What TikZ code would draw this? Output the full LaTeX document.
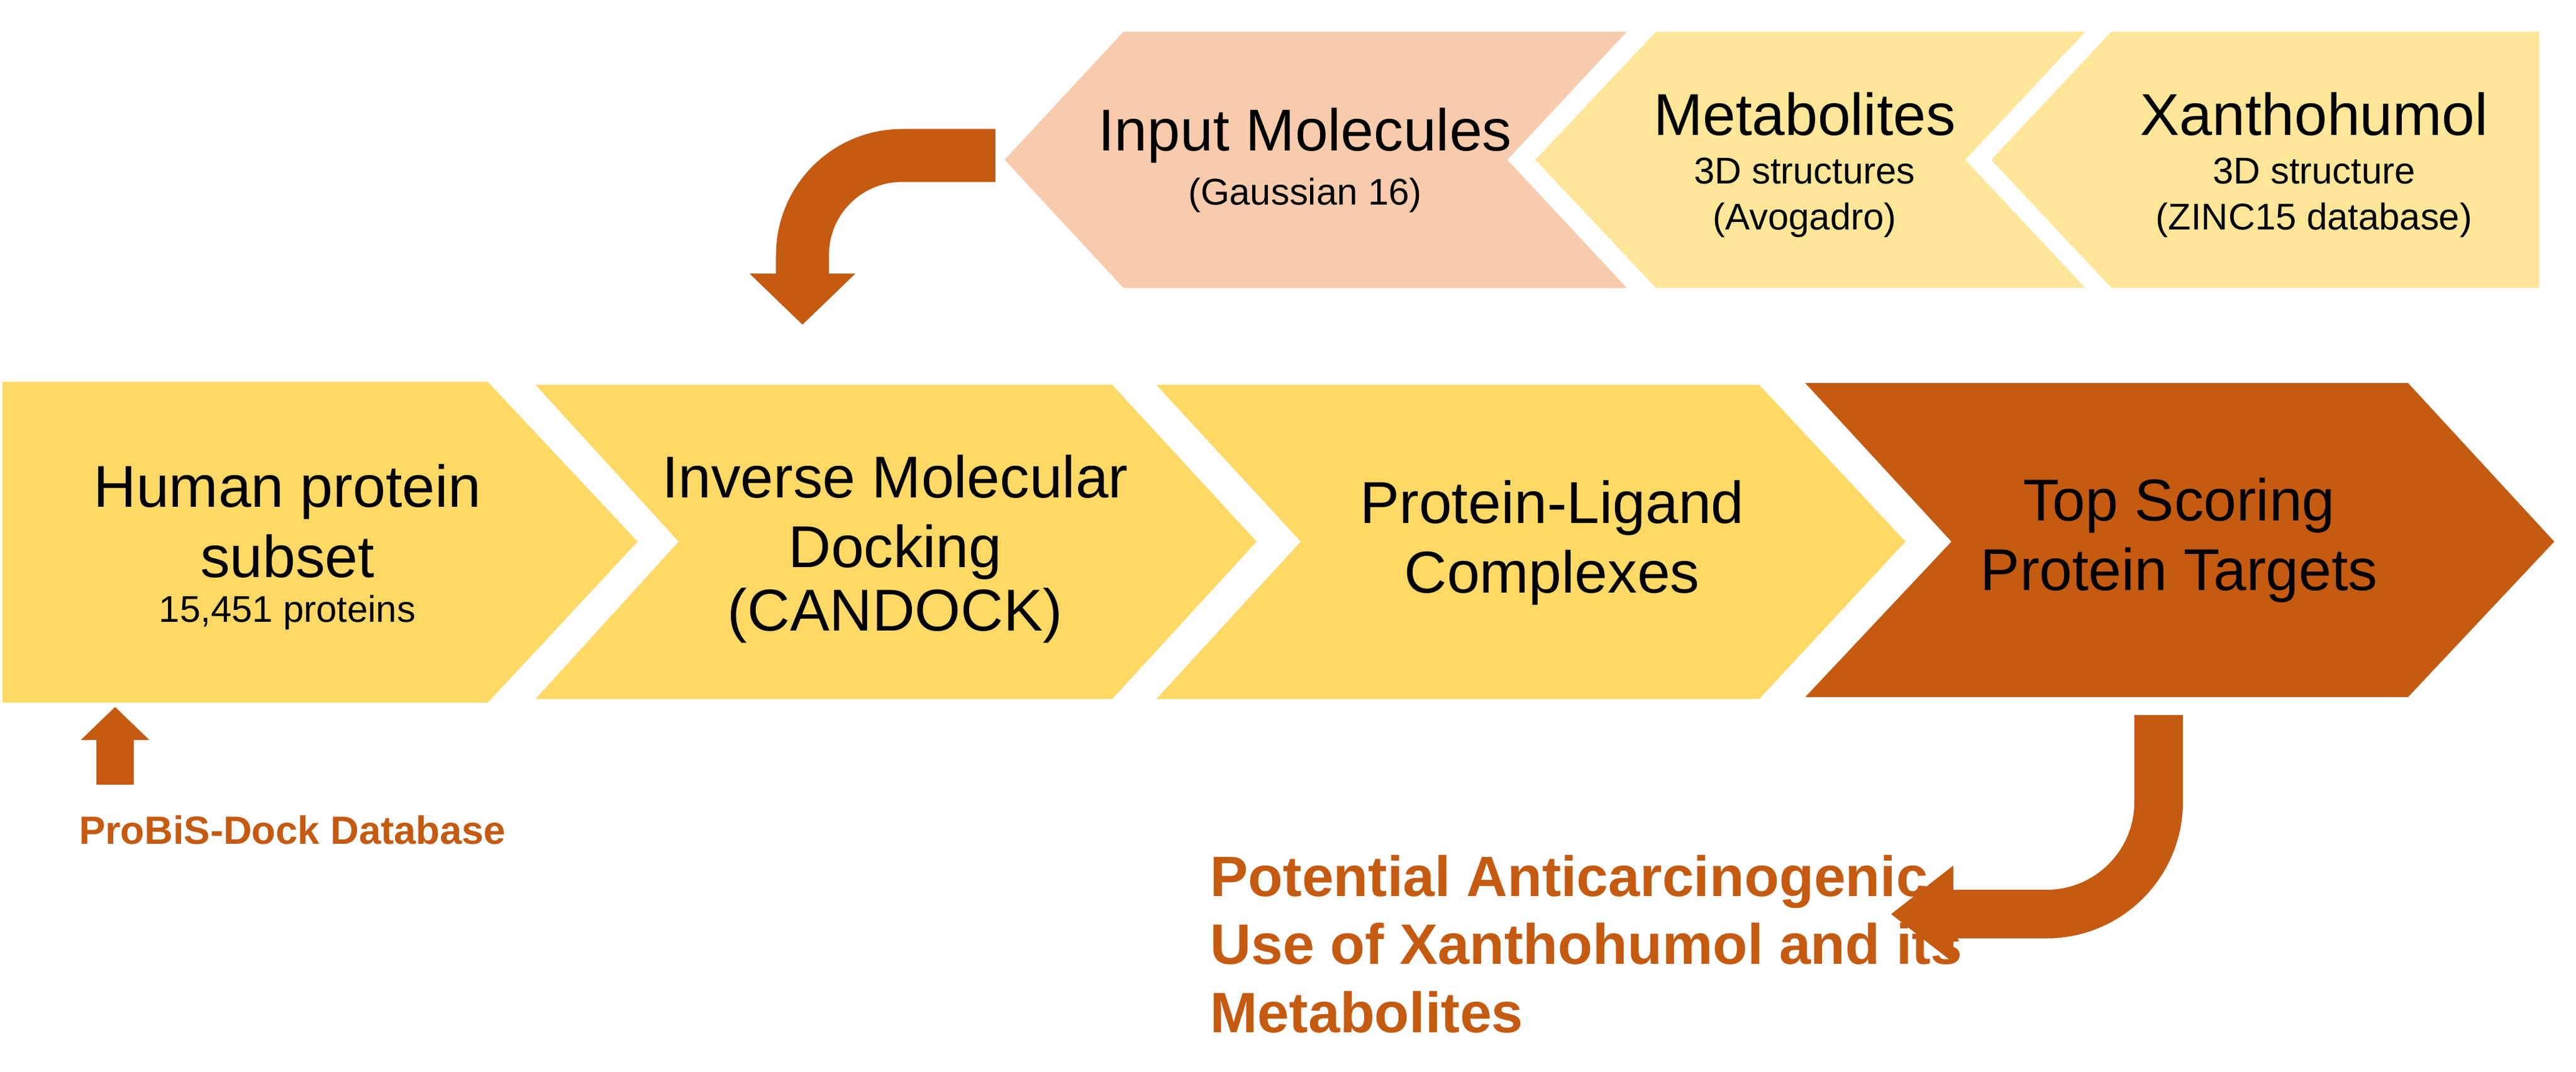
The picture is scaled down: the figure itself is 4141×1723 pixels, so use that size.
\documentclass[tikz,border=0pt]{standalone}
\usepackage{fontspec}
\setmainfont{Liberation Sans}
\begin{document}
\begin{tikzpicture}[x=0.01cm,y=-0.01cm,
  big/.style={font=\fontsize{27}{32}\selectfont,align=center,inner sep=0},
  small/.style={font=\fontsize{17}{21}\selectfont,align=center,inner sep=0},
  orn/.style={text=orng,font=\bfseries\fontsize{26}{31}\selectfont,inner sep=0}]
\definecolor{pinkc}{HTML}{F8CBAD}
\definecolor{lyel}{HTML}{FFE699}
\definecolor{yel}{HTML}{FFD966}
\definecolor{orng}{HTML}{C55A11}
\useasboundingbox (0,0) rectangle (4141,1723);
% top row
\fill[pinkc] (1806,51) -- (2615,51) -- (2423,257) -- (2615,463) -- (1806,463) -- (1615,257) -- cycle;
\fill[lyel] (2662,51) -- (3352,51) -- (3159,257) -- (3352,463) -- (2662,463) -- (2468,257) -- cycle;
\fill[lyel] (3394,51) -- (4082,51) -- (4082,463) -- (3394,463) -- (3201,257) -- cycle;
% bottom row
\fill[yel] (4,614) -- (784,614) -- (1025,871) -- (784,1130) -- (4,1130) -- cycle;
\fill[yel] (861,619) -- (1788,619) -- (2020,871) -- (1788,1124) -- (861,1124) -- (1091,871) -- cycle;
\fill[yel] (1859,619) -- (2828,619) -- (3063,871) -- (2828,1124) -- (1859,1124) -- (2091,871) -- cycle;
\fill[orng] (2902,616) -- (3871,616) -- (4106,871) -- (3871,1121) -- (2902,1121) -- (3137,871) -- cycle;
% texts
\node[big] (im) at (2098,218) {Input Molecules};
\node[small] (im2) at (2098,314) {(Gaussian 16)};
\node[big] (me) at (2901,184) {Metabolites};
\node[small] (me2) at (2901,318) {3D structures\\(Avogadro)};
\node[big] (xa) at (3720,184) {Xanthohumol};
\node[small] (xa2) at (3720,318) {3D structure\\(ZINC15 database)};
\node[big] (hp) at (462,838) {Human protein\\subset};
\node[small] (hp2) at (462,985) {15,451 proteins};
\node[big] (imd) at (1439,832) {Inverse Molecular\\Docking};
\node[big] (imd2) at (1439,990) {(CANDOCK)};
\node[big] (pl) at (2495,873) {Protein-Ligand\\Complexes};
\node[big] (ts) at (3503,869) {Top Scoring\\Protein Targets};
\node[orn,font=\bfseries\fontsize{18}{22}\selectfont] (pb) at (470,1335) {ProBiS-Dock Database};
\node[orn,align=left,anchor=north west] (pa) at (1945,1375) {Potential Anticarcinogenic\\Use of Xanthohumol and its\\Metabolites};
% arrows
\coordinate (a1s) at (1600,250);
\coordinate (a1c) at (1290,250);
\coordinate (a1e) at (1290,445);
\draw[orng,line width=0.85cm,rounded corners=1.6cm] (a1s) -- (a1c) -- (a1e);
\fill[orng] (1205,440) -- (1375,440) -- (1290,522) -- cycle;
\coordinate (a2s) at (185,1262);
\coordinate (a2e) at (185,1185);
\draw[orng,line width=0.6cm] (a2s) -- (a2e);
\fill[orng] (130,1190) -- (240,1190) -- (185,1137) -- cycle;
\coordinate (a3s) at (3470,1150);
\coordinate (a3c) at (3470,1470);
\coordinate (a3e) at (3135,1470);
\draw[orng,line width=0.78cm,rounded corners=1.8cm] (a3s) -- (a3c) -- (a3e);
\fill[orng] (3140,1392) -- (3140,1548) -- (3040,1470) -- cycle;
\end{tikzpicture}
\end{document}
